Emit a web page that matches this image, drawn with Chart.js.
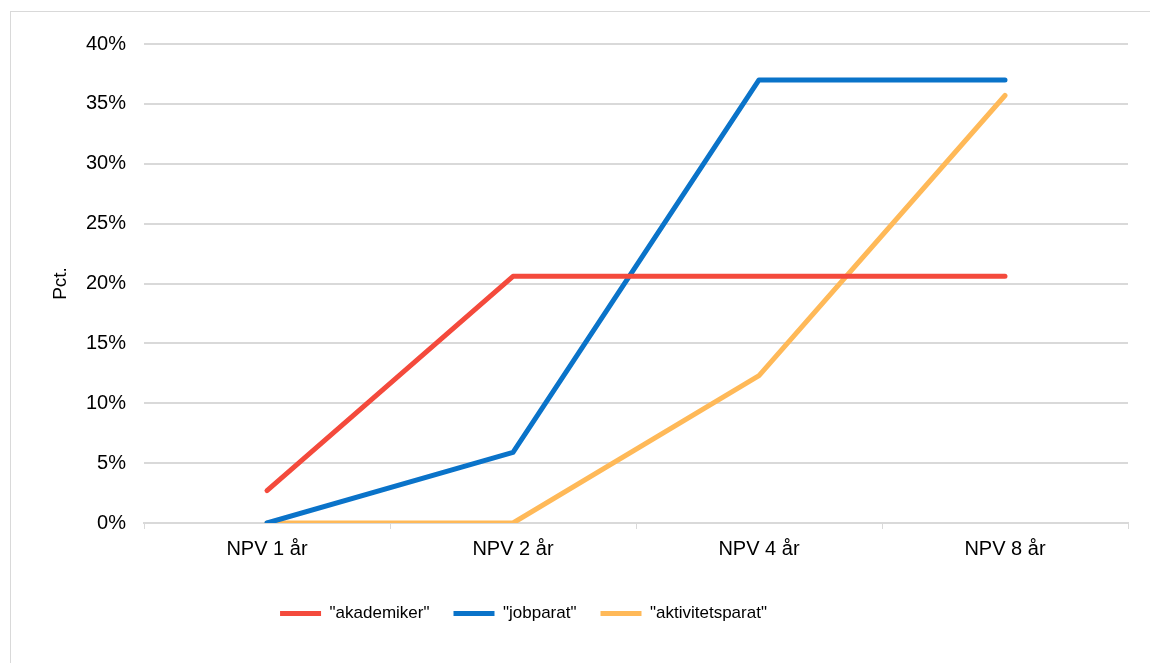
<!DOCTYPE html>
<html>
<head>
<meta charset="utf-8">
<script src="https://cdn.jsdelivr.net/npm/chart.js@4.4.1/dist/chart.umd.min.js"></script>
<style>
  html, body { margin: 0; padding: 0; background: #fff; overflow: hidden; }
  #box {
    position: absolute; left: 10px; top: 11px;
    width: 1139px; height: 651px;
    border: 1px solid #d9d9d9;
  }
</style>
</head>
<body>
<div id="box"><canvas id="chart" width="1139" height="651"></canvas></div>
<script>
// Data
const categories = ['NPV 1 år', 'NPV 2 år', 'NPV 4 år', 'NPV 8 år'];
const akademiker = [2.7, 20.6, 20.6, 20.6];
const jobparat = [0, 5.9, 37.0, 37.0];
const aktivitetsparat = [0, 0, 12.3, 35.7];
const seriesNames = ['"akademiker"', '"jobparat"', '"aktivitetsparat"'];
const yTicks = [0, 5, 10, 15, 20, 25, 30, 35, 40];

const colors = ['#f44a3c', '#0a73c9', '#ffb958'];
const font = "Arial, 'Liberation Sans', sans-serif";

function line(label, data, color) {
  return {
    label: label,
    data: data,
    borderColor: color,
    backgroundColor: color,
    borderWidth: 5,
    borderCapStyle: 'round',
    borderJoinStyle: 'round',
    pointRadius: 0,
    tension: 0
  };
}

// legend in the original sits left of centre
const shiftLegend = {
  id: 'shiftLegend',
  afterLayout(chart) {
    chart.legend.left -= 46;
    chart.legend.right -= 46;
  }
};

new Chart(document.getElementById('chart'), {
  type: 'line',
  data: {
    labels: categories,
    datasets: [
      line(seriesNames[0], akademiker, colors[0]),
      line(seriesNames[1], jobparat, colors[1]),
      line(seriesNames[2], aktivitetsparat, colors[2])
    ]
  },
  plugins: [shiftLegend],
  options: {
    responsive: false,
    animation: false,
    layout: { padding: { top: 32, right: 22, bottom: 31, left: 0 } },
    plugins: {
      tooltip: { enabled: false },
      legend: {
        position: 'bottom',
        labels: {
          usePointStyle: true,
          pointStyle: 'line',
          pointStyleWidth: 41,
          boxWidth: 41,
          boxHeight: 4,
          padding: 24,
          color: '#000',
          font: { family: font, size: 17 }
        }
      }
    },
    scales: {
      x: {
        offset: true,
        grid: {
          offset: true,
          drawOnChartArea: false,
          color: '#d9d9d9',
          tickLength: 6,
          tickColor: '#d9d9d9'
        },
        border: { color: '#d9d9d9', width: 2 },
        ticks: {
          color: '#000',
          padding: 8,
          maxRotation: 0,
          font: { family: font, size: 20 }
        },
        afterFit: (s) => { s.height = 58; }
      },
      y: {
        min: 0,
        max: 40,
        afterBuildTicks: (s) => { s.ticks = yTicks.map(v => ({ value: v })); },
        grid: { color: '#d9d9d9', lineWidth: 2, drawTicks: false },
        border: { display: false },
        ticks: {
          color: '#000',
          padding: 18,
          font: { family: font, size: 20 },
          callback: (v) => v + '%'
        },
        title: {
          display: true,
          text: 'Pct.',
          color: '#000',
          padding: { top: 38, bottom: 0 },
          font: { family: font, size: 19 }
        },
        afterFit: (s) => { s.width = 133; }
      }
    }
  }
});
</script>
</body>
</html>
